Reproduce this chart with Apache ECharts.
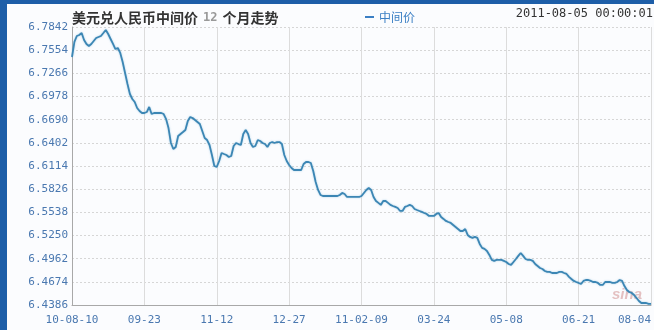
<!DOCTYPE html>
<html><head><meta charset="utf-8">
<script src="https://cdn.jsdelivr.net/npm/echarts@6/dist/echarts.min.js"></script>
<style>html,body{margin:0;padding:0;background:#fbfcfe;}#c{width:654px;height:330px;}</style>
</head><body><div id="c"></div>
<script>
const xTickLabels = ['10-08-10','09-23','11-12','12-27','11-02-09','03-24','05-08','06-21','08-04'];
const yTickValues = [6.4386,6.4674,6.4962,6.5250,6.5538,6.5826,6.6114,6.6402,6.6690,6.6978,6.7266,6.7554,6.7842];
const midRate = [
6.7469,6.7656,6.7730,6.7743,6.7767,6.7680,6.7631,6.7606,6.7631,6.7668,
6.7705,6.7718,6.7730,6.7767,6.7805,6.7755,6.7693,6.7631,6.7568,6.7581,
6.7519,6.7407,6.7270,6.7133,6.7009,6.6947,6.6910,6.6835,6.6798,6.6773,
6.6773,6.6785,6.6848,6.6760,6.6773,6.6773,6.6773,6.6773,6.6760,6.6698,
6.6586,6.6400,6.6325,6.6350,6.6487,6.6512,6.6536,6.6561,6.6673,6.6723,
6.6710,6.6686,6.6661,6.6636,6.6549,6.6462,6.6437,6.6375,6.6251,6.6114,
6.6102,6.6176,6.6276,6.6263,6.6251,6.6226,6.6238,6.6363,6.6400,6.6387,
6.6375,6.6512,6.6561,6.6512,6.6400,6.6350,6.6363,6.6437,6.6425,6.6400,
6.6387,6.6350,6.6400,6.6412,6.6400,6.6412,6.6412,6.6387,6.6251,6.6176,
6.6126,6.6089,6.6064,6.6064,6.6064,6.6064,6.6139,6.6164,6.6164,6.6151,
6.6052,6.5915,6.5816,6.5754,6.5741,6.5741,6.5741,6.5741,6.5741,6.5741,
6.5741,6.5754,6.5779,6.5766,6.5729,6.5729,6.5729,6.5729,6.5729,6.5729,
6.5741,6.5779,6.5816,6.5841,6.5816,6.5729,6.5679,6.5655,6.5630,6.5679,
6.5679,6.5655,6.5630,6.5617,6.5605,6.5592,6.5555,6.5555,6.5605,6.5617,
6.5630,6.5617,6.5580,6.5567,6.5555,6.5543,6.5530,6.5518,6.5493,6.5493,
6.5493,6.5518,6.5530,6.5480,6.5456,6.5431,6.5418,6.5406,6.5381,6.5356,
6.5331,6.5306,6.5306,6.5331,6.5257,6.5232,6.5220,6.5232,6.5220,6.5145,
6.5096,6.5083,6.5058,6.5008,6.4946,6.4934,6.4946,6.4946,6.4946,6.4934,
6.4921,6.4896,6.4884,6.4921,6.4958,6.4996,6.5033,6.4996,6.4958,6.4946,
6.4946,6.4934,6.4896,6.4871,6.4846,6.4834,6.4809,6.4797,6.4797,6.4784,
6.4784,6.4784,6.4797,6.4797,6.4784,6.4772,6.4735,6.4710,6.4685,6.4672,
6.4660,6.4647,6.4685,6.4697,6.4697,6.4685,6.4672,6.4672,6.4660,6.4635,
6.4635,6.4672,6.4672,6.4672,6.4660,6.4660,6.4672,6.4697,6.4685,6.4622,
6.4573,6.4548,6.4536,6.4511,6.4473,6.4436,6.4411,6.4411,6.4411,6.4399,
6.4399
];
const perTick = 30;
const seriesData = midRate.map((v,i)=>[i,v]);
const chart = echarts.init(document.getElementById('c'), null, {renderer:'canvas'});
const labelFont = 'DejaVu Sans Mono';
chart.setOption({
  backgroundColor:'#fbfcfe',
  animation:false,
  title:{
    text:'{a|美元兑人民币中间价} {b|12} {a|个月走势}',
    left:67, top:4,
    textStyle:{rich:{
      a:{fontFamily:'Noto Sans CJK SC',fontSize:14,fontWeight:'bold',color:'#333'},
      b:{fontFamily:labelFont,fontSize:12,color:'#999'}
    }}
  },
  legend:{
    data:['中间价'], left:360, top:6,
    icon:'rect', itemWidth:9, itemHeight:2, itemGap:6,
    textStyle:{color:'#3b7fc4',fontFamily:'Noto Sans CJK SC',fontSize:12}
  },
  graphic:[
    {type:'rect',shape:{x:0,y:0,width:654,height:4},style:{fill:'#1d5ea8'},z:100},
    {type:'rect',shape:{x:0,y:0,width:7,height:330},style:{fill:'#1d5ea8'},z:100},
    {type:'text',right:1,top:8,style:{text:'2011-08-05 00:00:01',font:'12px DejaVu Sans Mono',fill:'#333'}},
    {type:'text',left:612,top:287,style:{text:'sina',font:'italic bold 15px Liberation Sans',fill:'rgba(200,120,120,0.45)'}}
  ],
  grid:{left:72,right:1,top:27,bottom:25,containLabel:false},
  xAxis:{
    type:'value', min:0, max:(xTickLabels.length-1)*perTick, interval:perTick,
    axisLine:{show:true,lineStyle:{color:'#a8a8a8',width:1}},
    axisTick:{show:false},
    splitLine:{show:true,lineStyle:{color:'#dcdcdc',width:1}},
    axisLabel:{
      color:'#4a78b0',fontFamily:labelFont,fontSize:11,margin:10,
      alignMaxLabel:'right',
      formatter:(v)=>xTickLabels[Math.round(v/perTick)]
    }
  },
  yAxis:{
    type:'value', min:yTickValues[0], max:yTickValues[yTickValues.length-1],
    axisLine:{show:true,lineStyle:{color:'#a8a8a8',width:1}},
    axisTick:{show:false,customValues:yTickValues},
    splitLine:{show:true,lineStyle:{color:'#d6d6d6',width:1,type:[2,2]}},
    axisLabel:{
      customValues:yTickValues,
      color:'#4a78b0',fontFamily:labelFont,fontSize:11,margin:4,
      formatter:(v)=>v.toFixed(4)
    }
  },
  series:[{
    name:'中间价', type:'line', data:seriesData, showSymbol:false,
    lineStyle:{color:'#3c86b4',width:1.8,shadowColor:'rgba(120,180,215,0.6)',shadowBlur:2},
    itemStyle:{color:'#3b7fc4'}
  }]
});
</script></body></html>
